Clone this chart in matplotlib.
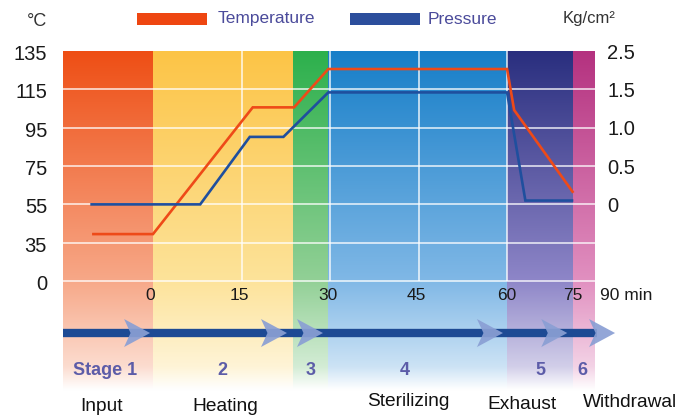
import numpy as np
import matplotlib
matplotlib.use("Agg")
import matplotlib.pyplot as plt
from matplotlib.patches import Rectangle, Polygon

plt.rcParams['font.family'] = ['Liberation Sans', 'DejaVu Sans']

# process curves (time in min, temperature in deg C, pressure in kg/cm2)
temp_time = [-10.1, 0, 16.9, 23.9, 29.7, 60, 61.2, 71.1]
temp_vals = [39.5, 39.5, 105.6, 105.6, 125.6, 125.6, 104.2, 61.6]
pres_time = [-10.4, 8, 16.4, 22.1, 29.7, 60, 63.1, 71]
pres_vals = [0, 0, 0.88, 0.88, 1.46, 1.46, 0.05, 0.05]

# stage bands
zone_edges = [-15.25, 0, 23.7, 29.7, 60, 71.2, 74.9]
zone_top = ['#ee4e14', '#fcc446', '#2cb04c', '#167ec8', '#292e7e', '#b4317f']
zone_mid = ['#f7a888', '#fde39a', '#92d096', '#80b8e6', '#8e86c8', '#e190c0']

# axis labels (the chart's scale is schematic)
temp_ticks = [15, 35, 55, 75, 95, 115, 135]
temp_labels = ['0', '35', '55', '75', '95', '115', '135']
pres_ticks = [0, 0.5, 1.0, 1.5, 2.0]
pres_labels = ['0', '0.5', '1.0', '1.5', '2.5']
time_ticks = [-0.5, 14.7, 29.7, 44.7, 60, 71.2, 80.5]
time_labels = ['0', '15', '30', '45', '60', '75', '90 min']

stage_x = [-8.1, 11.7, 26.7, 42.7, 65.6, 72.7]
stage_labels = ['Stage 1', '2', '3', '4', '5', '6']
step_x = [-8.8, 12.2, 43.3, 62.5, 80.8]
step_y = [-50.5, -50.5, -48, -49.5, -48.5]
step_labels = ['Input', 'Heating', 'Sterilizing', 'Exhaust', 'Withdrawal']
chevron_tips = [-0.5, 22.7, 28.8, 59.3, 70.2, 78.3]

W, H = 698, 419
fig = plt.figure(figsize=(W / 100, H / 100), dpi=100)
ax = fig.add_axes([63 / W, 1 - 396.1 / H, 532 / W, 345.1 / H])
ymin, ymax = -45, 135


def hex_rgb(h):
    h = h.lstrip('#')
    return np.array([int(h[i:i + 2], 16) for i in (0, 2, 4)]) / 255.0


def gradient(top, mid):
    top, mid = hex_rgb(top), hex_rgb(mid)
    white = np.ones(3)
    pale = mid + (white - mid) * 0.6
    lev = np.linspace(ymax, ymin, 300)
    stops = [135, 15, -30, -42, -45]
    cols = [top, mid, pale, white, white]
    out = np.zeros((len(lev), 3))
    for c in range(3):
        out[:, c] = np.interp(lev, stops[::-1], [col[c] for col in cols[::-1]])
    return out[:, None, :]


for i in range(len(zone_top)):
    ax.imshow(gradient(zone_top[i], zone_mid[i]), aspect='auto', zorder=0,
              extent=(zone_edges[i], zone_edges[i + 1], ymin, ymax), interpolation='bilinear')

ax.hlines(temp_ticks[:-1], zone_edges[0], zone_edges[-1], color='white', lw=1.3, alpha=0.75, zorder=1)
ax.vlines([15, 30, 45, 60], 15, 135, color='white', lw=1.3, alpha=0.75, zorder=1)

ax.set_xlim(zone_edges[0], zone_edges[-1])
ax.set_ylim(ymin, ymax)
for s in ax.spines.values():
    s.set_visible(False)
ax.set_xticks([])
ax.set_yticks([])

ax.plot(temp_time, temp_vals, color='#ee4a18', lw=1.9, zorder=4, solid_joinstyle='miter')

ax2 = ax.twinx()
ax2.set_ylim((ymin - 55) / 40, (ymax - 55) / 40)
ax2.plot(pres_time, pres_vals, color='#1f4f9e', lw=1.9, zorder=3, solid_joinstyle='miter')
for s in ax2.spines.values():
    s.set_visible(False)
ax2.set_yticks([])

for t, lab in zip(temp_ticks, temp_labels):
    ax.annotate(lab, xy=(0, t), xycoords=('axes fraction', 'data'), xytext=(-11.5, -2.5),
                textcoords='offset points', ha='right', va='center', fontsize=14.5, color='#1a1a1a',
                annotation_clip=False)
for p, lab in zip(pres_ticks, pres_labels):
    ax2.annotate(lab, xy=(1, p), xycoords=('axes fraction', 'data'), xytext=(9, -1.5),
                 textcoords='offset points', ha='left', va='center', fontsize=14.5, color='#1a1a1a',
                 annotation_clip=False)
for t, lab in zip(time_ticks, time_labels):
    ha = 'left' if lab.endswith('min') else 'center'
    xt = t - 4.7 if ha == 'left' else t
    ax.text(xt, 7.5, lab, ha=ha, va='center', fontsize=12.5, color='#1a1a1a', clip_on=False, zorder=5)

# stage arrow
arrow_y = -12.1
ax.plot([zone_edges[0], chevron_tips[-1] - 3], [arrow_y, arrow_y], color='#1d4a94', lw=6, zorder=3,
        solid_capstyle='butt', clip_on=False)
for tip in chevron_tips:
    w, h, notch = 4.4, 7.3, 1.1
    ax.add_patch(Polygon([(tip - w, arrow_y + h), (tip, arrow_y), (tip - w, arrow_y - h),
                          (tip - w + notch, arrow_y)], closed=True, facecolor='#8a9fd4',
                         edgecolor='none', alpha=0.92, zorder=4, clip_on=False))

for x, lab in zip(stage_x, stage_labels):
    ax.text(x, -31.4, lab, ha='center', va='center', fontsize=13, fontweight='bold',
            color='#5c5ca8', zorder=5)
for x, y, lab in zip(step_x, step_y, step_labels):
    ax.text(x, y, lab, ha='center', va='center', fontsize=13.8, color='#111111', clip_on=False, zorder=5)

# header: units and legend
fig.text(27 / W, 1 - 22 / H, '°C', ha='left', va='center', fontsize=13, color='#333333')
fig.text(563 / W, 1 - 19 / H, 'Kg/cm²', ha='left', va='center', fontsize=12, color='#333333')
fig.add_artist(Rectangle((137 / W, 1 - 25 / H), 70 / W, 12 / H, transform=fig.transFigure,
                         facecolor='#ee4611', edgecolor='none'))
fig.text(218 / W, 1 - 19 / H, 'Temperature', ha='left', va='center', fontsize=12.5, color='#4b4b9b')
fig.add_artist(Rectangle((350 / W, 1 - 25 / H), 70 / W, 12 / H, transform=fig.transFigure,
                         facecolor='#2c4e9c', edgecolor='none'))
fig.text(428 / W, 1 - 19 / H, 'Pressure', ha='left', va='center', fontsize=12.5, color='#4b4b9b')

fig.savefig('out.png', dpi=100)
